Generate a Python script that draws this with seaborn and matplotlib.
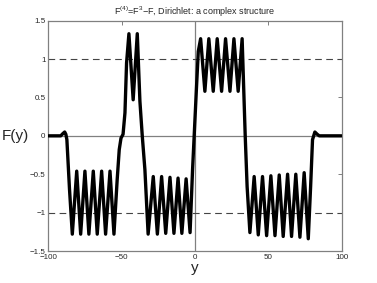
import numpy as np
import pandas as pd
import matplotlib
matplotlib.use("Agg")
import matplotlib.pyplot as plt
import seaborn as sns

# points (y = horizontal coordinate, F = value)
lead_y = [-100, -91.5, -90.0, -88.8, -88.0, -87.3, -85.5]
lead_F = [0.0, 0.0, 0.03, 0.05, 0.02, -0.05, -0.7]

# first negative plateau: troughs / peaks
blk1_y = [-83.6, -80.6, -77.9, -75.0, -72.3, -69.3, -66.6, -63.6, -60.9, -57.9, -55.2]
blk1_F = [-1.28, -0.46, -1.28, -0.46, -1.28, -0.46, -1.28, -0.46, -1.28, -0.46, -1.28]

# rise with shoulder, double hump, fall
hump_y = [-53.0, -51.6, -50.4, -49.0, -47.7, -46.6, -45.0, -42.1, -39.3, -37.5, -35.9, -34.1]
hump_F = [-0.57, -0.18, -0.03, 0.02, 0.30, 0.95, 1.33, 0.47, 1.33, 0.45, 0.0, -0.44]

# second negative plateau
blk2_y = [-31.9, -28.4, -25.6, -22.7, -19.9, -17.0, -14.3, -11.5, -8.9, -6.0, -3.3]
blk2_F = [-1.28, -0.53, -1.28, -0.53, -1.27, -0.54, -1.27, -0.55, -1.27, -0.56, -1.26]

rise_y = [-1.6, -0.5, 1.0, 2.3]
rise_F = [-0.44, 0.0, 0.6, 1.1]

# positive plateau
blk3_y = [3.9, 6.8, 9.5, 12.5, 15.2, 18.2, 20.9, 23.9, 26.6, 29.5, 32.2]
blk3_F = [1.265, 0.58, 1.265, 0.58, 1.265, 0.58, 1.265, 0.58, 1.265, 0.58, 1.265]

fall_y = [33.3, 34.3, 35.6]
fall_F = [0.6, 0.0, -0.66]

# last negative plateau
blk4_y = [37.5, 40.4, 43.2, 46.1, 48.9, 51.8, 54.6, 57.5, 60.2, 63.2, 65.9, 68.8, 71.6, 74.5, 77.3]
blk4_F = [-1.26, -0.53, -1.29, -0.53, -1.30, -0.52, -1.30, -0.51, -1.31, -0.50, -1.31, -0.50, -1.32, -0.48, -1.34]

tail_y = [78.9, 80.2, 81.8, 83.4, 84.8, 100]
tail_F = [-0.66, -0.05, 0.05, 0.02, 0.0, 0.0]

xticks = [-100, -50, 0, 50, 100]
yticks = [-1.5, -1, -0.5, 0, 0.5, 1, 1.5]

df = pd.DataFrame({
    "y": lead_y + blk1_y + hump_y + blk2_y + rise_y + blk3_y + fall_y + blk4_y + tail_y,
    "F": lead_F + blk1_F + hump_F + blk2_F + rise_F + blk3_F + fall_F + blk4_F + tail_F,
})

sns.set_theme(style="white")
plt.rcParams["font.family"] = ["Liberation Sans", "DejaVu Sans"]
plt.rcParams["mathtext.fontset"] = "custom"
plt.rcParams["mathtext.rm"] = "Liberation Sans"
plt.rcParams["mathtext.default"] = "regular"

fig = plt.figure(figsize=(3.77, 2.83), dpi=100)
ax = fig.add_axes([0.128, 0.113, 0.778, 0.814])

grey = "#808080"
ax.axhline(0, color=grey, lw=0.9, zorder=1)
ax.axvline(0, color=grey, lw=0.9, zorder=1)
for lvl in (1, -1):
    ax.axhline(lvl, color="#444444", lw=0.8, ls=(0, (6, 4)), zorder=1)

sns.lineplot(data=df, x="y", y="F", sort=False, estimator=None, color="black",
             lw=2.4, ax=ax, zorder=3)
ax.lines[-1].set_solid_joinstyle("round")

ax.set_xlim(-100, 100)
ax.set_ylim(-1.5, 1.5)
ax.set_xticks(xticks)
ax.set_yticks(yticks)
ax.set_xticklabels([str(t).replace("-", "\u2212") for t in xticks])
ax.set_yticklabels([("%g" % t).replace("-", "\u2212") for t in yticks])
ax.tick_params(direction="in", length=3, width=0.7, color=grey, labelsize=5.8,
               top=True, right=True, pad=2)
for s in ax.spines.values():
    s.set_color(grey)
    s.set_linewidth(0.9)

ax.set_xlabel("y", fontsize=11, labelpad=0)
ax.set_ylabel("F(y)", fontsize=11, rotation=0, labelpad=10, va="center")
ax.set_title(r"F$^{(4)}$=F$^3$$-$F, Dirichlet: a complex structure", fontsize=6.5, pad=4)

fig.savefig("out.png", dpi=100)
